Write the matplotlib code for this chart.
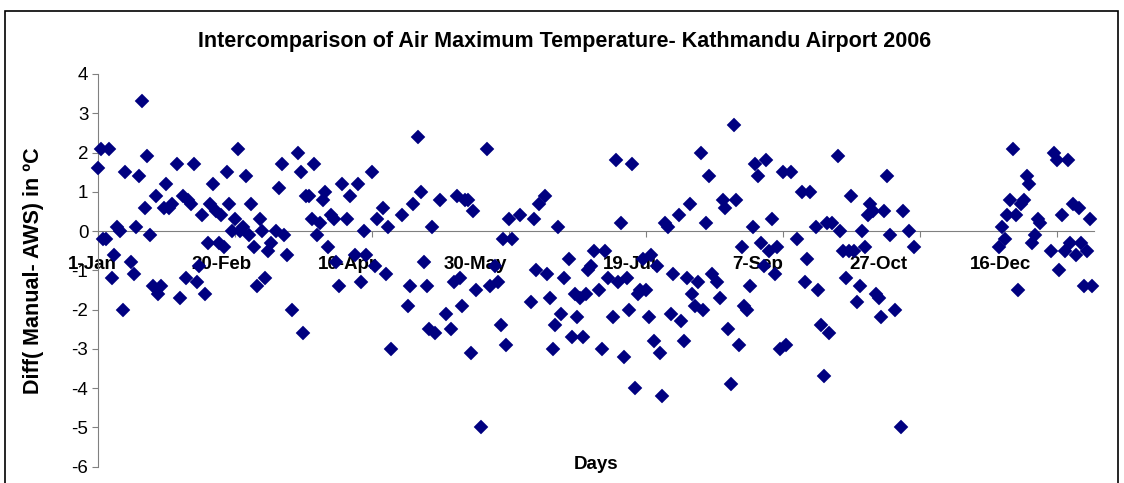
import matplotlib.pyplot as plt
from matplotlib.patches import Rectangle
from matplotlib.transforms import ScaledTranslation

# day number in 2006 (1 = 1-Jan) and difference Manual - AWS (deg C)
days = [1, 2, 3, 4, 5, 6, 7, 8, 9, 10, 11, 13, 14, 15, 16, 17, 18, 19, 20, 21,
        22, 23, 24, 25, 26, 27, 28, 30, 31, 32, 33, 34, 35, 36, 37, 38, 39, 40, 41, 42,
        43, 44, 45, 46, 47, 48, 49, 50, 51, 52, 53, 54, 55, 56, 57, 58, 59, 60, 61, 62,
        63, 64, 66, 67, 68, 69, 70, 72, 74, 75, 76, 77, 78, 79, 80, 81, 82, 83, 84, 85,
        86, 87, 88, 89, 90, 92, 93, 95, 96, 97, 98, 99, 101, 102, 103, 105, 106, 107, 108, 112,
        114, 115, 116, 118, 119, 120, 121, 122, 123, 124, 126, 128, 130, 131, 132, 133, 134, 135, 136, 137,
        138, 139, 141, 143, 144, 146, 147, 148, 149, 150, 151, 152, 155, 159, 160, 161, 162, 164, 165, 166,
        167, 168, 169, 170, 171, 173, 174, 175, 176, 177, 178, 179, 180, 181, 182, 184, 185, 186, 187, 189,
        190, 191, 192, 193, 194, 195, 196, 197, 198, 199, 200, 201, 202, 203, 204, 205, 206, 207, 208, 209,
        210, 211, 213, 214, 215, 216, 217, 218, 219, 220, 221, 222, 223, 224, 225, 227, 228, 229, 230, 231,
        232, 233, 234, 235, 236, 237, 238, 239, 240, 241, 242, 243, 244, 245, 246, 247, 248, 249, 250, 251,
        252, 254, 256, 258, 259, 260, 261, 263, 264, 265, 266, 267, 268, 269, 271, 272, 273, 274, 275, 276,
        277, 278, 279, 280, 281, 282, 283, 284, 285, 286, 287, 288, 289, 290, 292, 294, 295, 297, 299,
        330, 331, 332, 333, 334, 335, 336, 337, 338, 339, 340, 341, 342, 343, 344, 345,
        349, 350, 351, 352, 353, 354, 355, 356, 357, 358, 359, 360, 361, 362, 363, 364]

diff = [1.6, 2.1, -0.2, -0.2, 2.1, -1.2, -0.6, 0.1, 0.0, -2.0, 1.5, -0.8, -1.1, 0.1, 1.4, 3.3, 0.6, 1.9, -0.1, -1.4,
        0.9, -1.6, -1.4, 0.6, 1.2, 0.6, 0.7, 1.7, -1.7, 0.9, -1.2, 0.8, 0.7, 1.7, -1.3, -0.9, 0.4, -1.6, -0.3, 0.7,
        1.2, 0.5, -0.3, 0.4, -0.4, 1.5, 0.7, 0.0, 0.3, 2.1, 0.0, 0.1, 1.4, -0.1, 0.7, -0.4, -1.4, 0.3, 0.0, -1.2,
        -0.5, -0.3, 0.0, 1.1, 1.7, -0.1, -0.6, -2.0, 2.0, 1.5, -2.6, 0.9, 0.9, 0.3, 1.7, -0.1, 0.2, 0.8, 1.0, -0.4,
        0.4, 0.3, -0.8, -1.4, 1.2, 0.3, 0.9, -0.6, 1.2, -1.3, 0.0, -0.6, 1.5, -0.9, 0.3, 0.6, -1.1, 0.1, -3.0, 0.4,
        -1.9, -1.4, 0.7, 2.4, 1.0, -0.8, -1.4, -2.5, 0.1, -2.6, 0.8, -2.1, -2.5, -1.3, 0.9, -1.2, -1.9, 0.8, 0.8, -3.1,
        0.5, -1.5, -5.0, 2.1, -1.4, -0.9, -1.3, -2.4, -0.2, -2.9, 0.3, -0.2, 0.4, -1.8, 0.3, -1.0, 0.7, 0.9, -1.1, -1.7,
        -3.0, -2.4, 0.1, -2.1, -1.2, -0.7, -2.7, -1.6, -2.2, -1.7, -2.7, -1.6, -1.0, -0.9, -0.5, -1.5, -3.0, -0.5, -1.2, -2.2,
        1.8, -1.3, 0.2, -3.2, -1.2, -2.0, 1.7, -4.0, -1.6, -1.5, -0.7, -1.5, -2.2, -0.6, -2.8, -0.9, -3.1, -4.2, 0.2, 0.1,
        -2.1, -1.1, 0.4, -2.3, -2.8, -1.2, 0.7, -1.6, -1.9, -1.3, 2.0, -2.0, 0.2, 1.4, -1.1, -1.3, -1.7, 0.8, 0.6, -2.5,
        -3.9, 2.7, 0.8, -2.9, -0.4, -1.9, -2.0, -1.4, 0.1, 1.7, 1.4, -0.3, -0.9, 1.8, -0.5, 0.3, -1.1, -0.4, -3.0, 1.5,
        -2.9, 1.5, -0.2, 1.0, -1.3, -0.7, 1.0, 0.1, -1.5, -2.4, -3.7, 0.2, -2.6, 0.2, 1.9, 0.0, -0.5, -1.2, -0.5, 0.9,
        -0.5, -1.8, -1.4, 0.0, -0.4, 0.4, 0.7, 0.5, -1.6, -1.7, -2.2, 0.5, 1.4, -0.1, -2.0, -5.0, 0.5, 0.0, -0.4,
        -0.4, 0.1, -0.2, 0.4, 0.8, 2.1, 0.4, -1.5, 0.7, 0.8, 1.4, 1.2, -0.3, -0.1, 0.3, 0.2,
        -0.5, 2.0, 1.8, -1.0, 0.4, -0.5, 1.8, -0.3, 0.7, -0.6, 0.6, -0.3, -1.4, -0.5, 0.3, -1.4]

tick_days = [1, 51, 101, 151, 201, 251, 301, 351]
tick_labels = ['1-Jan', '20-Feb', '10-Apr', '30-May', '19-Jul', '7-Sep', '27-Oct', '16-Dec']
y_ticks = [4, 3, 2, 1, 0, -1, -2, -3, -4, -5, -6]

# Excel draws the date labels a little left of their ticks (pixels)
label_shift = [-6, -14, -24, -34, -16, -25, -41, -56]

plt.rcParams['font.family'] = ['Liberation Sans', 'DejaVu Sans']

fig = plt.figure(figsize=(11.24, 4.83), dpi=100)
ax = fig.add_axes([98 / 1124, 1 - 466.7 / 483, 996 / 1124, 392.7 / 483])

ax.plot(days, diff, linestyle='none', marker='D', markersize=7,
        color='#000080', markeredgewidth=0.3, clip_on=False, zorder=3)

ax.set_xlim(1, 364.6)
ax.set_ylim(-6, 4)

# Excel style axes: x axis crossing at zero, only left axis line
for s in ['top', 'right']:
    ax.spines[s].set_visible(False)
ax.spines['bottom'].set_position(('data', 0))
ax.spines['bottom'].set_color('#808080')
ax.spines['left'].set_color('#808080')

ax.set_xticks(tick_days)
ax.set_xticklabels(tick_labels, fontsize=13.5, fontweight='bold')
ax.set_yticks(y_ticks)
ax.set_yticklabels([str(v) for v in y_ticks], fontsize=13.5)
ax.tick_params(axis='x', direction='out', length=4, color='#808080', pad=14)
ax.tick_params(axis='y', direction='out', length=4, color='#808080', pad=3)

for lab, dx in zip(ax.get_xticklabels(), label_shift):
    lab.set_transform(lab.get_transform() + ScaledTranslation(dx / 100, 0, fig.dpi_scale_trans))

ax.set_ylabel('Diff( Manual- AWS) in ºC', fontsize=15.5, fontweight='bold', labelpad=20)
ax.text(0.5, 0.006, 'Days', transform=ax.transAxes, ha='center', va='center',
        fontsize=13.5, fontweight='bold')

fig.text(0.502, 1 - 42 / 483, 'Intercomparison of Air Maximum Temperature- Kathmandu Airport 2006',
         ha='center', va='center', fontsize=15.5, fontweight='bold')

# chart border
fig.patches.append(Rectangle((5 / 1124, -0.01), 1113 / 1124, 1 - 11 / 483 + 0.01,
                             transform=fig.transFigure, fill=False, edgecolor='black', linewidth=1.2))

fig.savefig('out.png', dpi=100)
